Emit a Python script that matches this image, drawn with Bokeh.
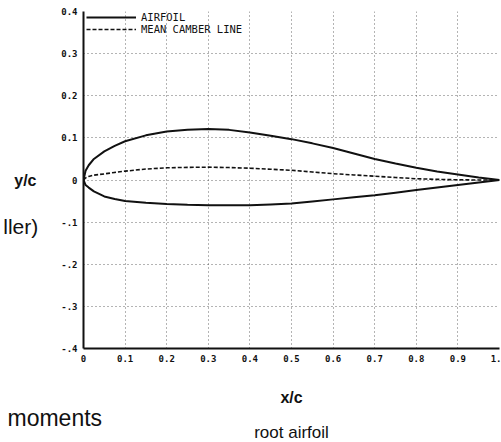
from bokeh.plotting import figure
from bokeh.models import FixedTicker, Legend, LegendItem, LinearAxis, Range1d, Title
from bokeh.embed import file_html
from bokeh.resources import INLINE

# ---- data ----
x_c = [0, 0.005, 0.0125, 0.025, 0.05, 0.075, 0.1, 0.15, 0.2, 0.25, 0.3, 0.35, 0.4,
       0.45, 0.5, 0.55, 0.6, 0.65, 0.7, 0.75, 0.8, 0.85, 0.9, 0.95, 1.0]
upper = [0, 0.022, 0.035, 0.050, 0.068, 0.081, 0.092, 0.106, 0.115, 0.119, 0.121, 0.119,
         0.113, 0.105, 0.097, 0.087, 0.076, 0.063, 0.050, 0.039, 0.029, 0.020, 0.013,
         0.006, 0]
lower = [0, -0.012, -0.018, -0.027, -0.039, -0.045, -0.050, -0.054, -0.057, -0.059,
         -0.060, -0.060, -0.060, -0.058, -0.056, -0.051, -0.046, -0.041, -0.036, -0.030,
         -0.024, -0.018, -0.012, -0.006, 0]
camber = [0, 0.005, 0.0085, 0.0115, 0.0145, 0.018, 0.021, 0.026, 0.029, 0.030, 0.0305,
          0.0295, 0.028, 0.0255, 0.023, 0.019, 0.015, 0.012, 0.009, 0.006, 0.003, 0.0015,
          0.0005, 0, 0]

x_ticks = [0, 0.1, 0.2, 0.3, 0.4, 0.5, 0.6, 0.7, 0.8, 0.9, 1.0]
x_tick_labels = ["0", "0.1", "0.2", "0.3", "0.4", "0.5", "0.6", "0.7", "0.8", "0.9", "1."]
y_ticks = [-0.4, -0.3, -0.2, -0.1, 0, 0.1, 0.2, 0.3, 0.4]
y_tick_labels = ["-.4", "-.3", "-.2", "-.1", "0", "0.1", "0.2", "0.3", "0.4"]

legend_labels = ["AIRFOIL", "MEAN CAMBER LINE"]
x_title = "x/c"
y_title = "y/c"
page_texts = ["ller)", "moments", "root airfoil"]

TICK_FONT = "DejaVu Sans Mono"
SANS = "Liberation Sans"
INK = "#111111"

p = figure(width=501, height=442, output_backend="svg", toolbar_location=None,
           x_range=Range1d(0, 1.0), y_range=Range1d(-0.4, 0.4),
           min_border_left=82, min_border_right=2, min_border_top=11, min_border_bottom=94)
p.outline_line_color = None
p.background_fill_color = "white"
p.border_fill_color = "white"

# axes
for ax in (p.xaxis[0], p.yaxis[0]):
    ax.axis_line_width = 2
    ax.axis_line_color = INK
    ax.major_tick_out = 0
    ax.major_tick_in = 0
    ax.minor_tick_out = 0
    ax.minor_tick_in = 0
    ax.major_label_text_font = TICK_FONT
    ax.major_label_text_font_size = "9px"
    ax.major_label_text_font_style = "bold"
    ax.major_label_text_color = INK
    ax.major_label_standoff = 6
    ax.axis_label_text_font = SANS
    ax.axis_label_text_color = INK

p.xaxis.ticker = FixedTicker(ticks=x_ticks)
p.yaxis.ticker = FixedTicker(ticks=y_ticks)
p.xaxis.major_label_overrides = {t: l for t, l in zip(x_ticks, x_tick_labels)}
p.yaxis.major_label_overrides = {t: l for t, l in zip(y_ticks, y_tick_labels)}

p.xaxis.axis_label = x_title
p.xaxis.axis_label_text_font_size = "16px"
p.xaxis.axis_label_text_font_style = "bold"
p.xaxis.axis_label_standoff = 24

# the main y axis carries the page fragment "(...prope)ller)" below its centre
p.yaxis.axis_label = "\n\n" + page_texts[0]
p.yaxis.axis_label_orientation = "horizontal"
p.yaxis.axis_label_text_font_size = "21px"
p.yaxis.axis_label_text_font_style = "normal"
p.yaxis.axis_label_text_line_height = 2.0
p.yaxis.axis_label_standoff = 20

# outer axis that only carries the y/c title
y_name_axis = LinearAxis(ticker=FixedTicker(ticks=[]), axis_line_color=None,
                         major_tick_out=0, minor_tick_out=0, major_label_standoff=0,
                         axis_label=y_title, axis_label_orientation="horizontal",
                         axis_label_text_font=SANS, axis_label_text_font_size="16px",
                         axis_label_text_font_style="bold", axis_label_text_color=INK,
                         axis_label_standoff=-36)
p.add_layout(y_name_axis, "left")

# dotted grid
for g in (p.xgrid[0], p.ygrid[0]):
    g.grid_line_color = "#444444"
    g.grid_line_dash = "1 3"
    g.grid_line_width = 1
    g.grid_line_alpha = 0.8

r_air_u = p.line(x_c, upper, line_color=INK, line_width=2)
r_air_l = p.line(x_c, lower, line_color=INK, line_width=2)
r_cam = p.line(x_c, camber, line_color=INK, line_width=1.6, line_dash="4 2")

leg_style = dict(margin=0, padding=0, spacing=0, label_height=6, glyph_height=6,
                 glyph_width=50, label_standoff=5, label_text_font=TICK_FONT,
                 label_text_font_size="10.5px", label_text_color=INK,
                 background_fill_alpha=0, border_line_alpha=0)
p.add_layout(Legend(items=[LegendItem(label=legend_labels[0], renderers=[r_air_u])],
                    location=(3, 325), **leg_style))
p.add_layout(Legend(items=[LegendItem(label=legend_labels[1], renderers=[r_cam])],
                    location=(3, 313), **leg_style))

# page texts below the chart
p.add_layout(Title(text=page_texts[1], align="left", offset=-76, vertical_align="middle",
                   text_font=SANS, text_font_size="23px", text_font_style="normal",
                   text_color=INK, standoff=-10), "below")
p.add_layout(Title(text=page_texts[2], align="center", vertical_align="middle",
                   text_font=SANS, text_font_size="17px", text_font_style="normal",
                   text_color=INK, standoff=-9), "below")

open("out.html", "w").write(file_html(p, INLINE))
